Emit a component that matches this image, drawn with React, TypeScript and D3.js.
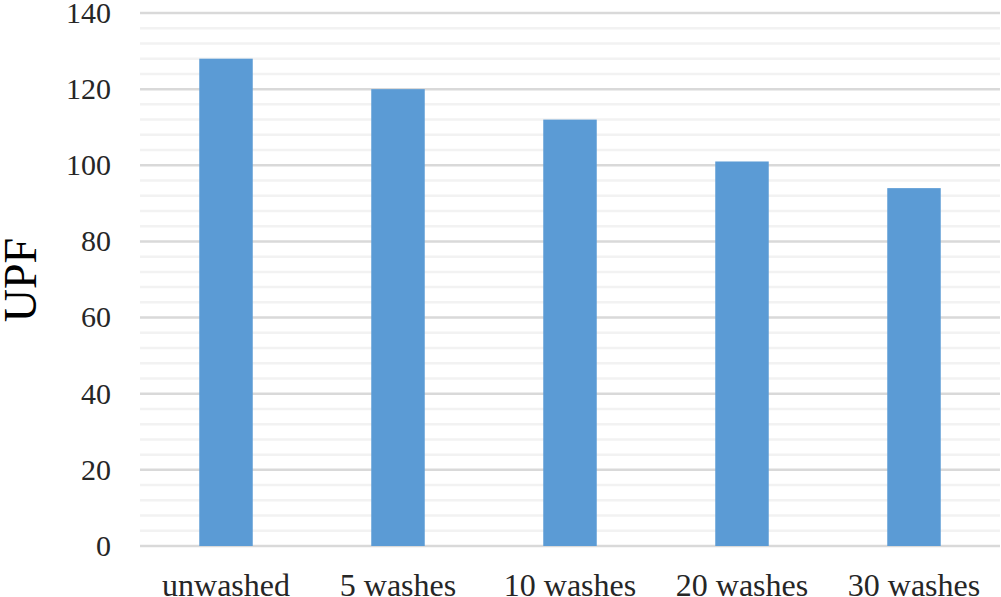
import React, { useEffect, useRef } from "react";
import * as d3 from "d3";

const categories = ["unwashed", "5 washes", "10 washes", "20 washes", "30 washes"];
const upfValues = [128, 120, 112, 101, 94];
const majorTicks = [0, 20, 40, 60, 80, 100, 120, 140];
const yTitle = "UPF";

const serif = "Liberation Serif, Tinos, DejaVu Serif, serif";

export default function App() {
  const ref = useRef<SVGSVGElement>(null);

  useEffect(() => {
    const width = 1001;
    const height = 597;
    const margin = { top: 13, right: 1, bottom: 51, left: 140 };

    const svg = d3.select(ref.current)
      .attr("width", width)
      .attr("height", height);
    svg.selectAll("*").remove();

    const x = d3.scaleBand<string>()
      .domain(categories)
      .range([margin.left, width - margin.right])
      .padding(0);

    const y = d3.scaleLinear()
      .domain([0, 140])
      .range([height - margin.bottom, margin.top]);

    // minor gridlines every 4
    const minor = d3.range(0, 141, 4).filter(v => v % 20 !== 0);
    svg.append("g")
      .selectAll("line")
      .data(minor)
      .enter()
      .append("line")
      .attr("x1", margin.left)
      .attr("x2", width - margin.right)
      .attr("y1", d => y(d))
      .attr("y2", d => y(d))
      .style("stroke", "#f2f2f2")
      .style("stroke-width", 2.5);

    // major gridlines
    svg.append("g")
      .selectAll("line")
      .data(majorTicks)
      .enter()
      .append("line")
      .attr("x1", margin.left)
      .attr("x2", width - margin.right)
      .attr("y1", d => y(d))
      .attr("y2", d => y(d))
      .style("stroke", "#d9d9d9")
      .style("stroke-width", 2.5);

    // bars
    const barW = x.step() * 0.311;
    svg.append("g")
      .selectAll("rect")
      .data(upfValues)
      .enter()
      .append("rect")
      .attr("x", (d, i) => (x(categories[i]) as number) + x.bandwidth() / 2 - barW / 2)
      .attr("y", d => y(d))
      .attr("width", barW)
      .attr("height", d => y(0) - y(d))
      .style("fill", "#5b9bd5");

    // y tick labels
    svg.append("g")
      .selectAll("text")
      .data(majorTicks)
      .enter()
      .append("text")
      .attr("x", 111)
      .attr("y", d => y(d))
      .attr("dy", "0.33em")
      .attr("text-anchor", "end")
      .attr("font-family", serif)
      .attr("font-size", 30)
      .attr("fill", "#262626")
      .text(d => d);

    // x labels
    svg.append("g")
      .selectAll("text")
      .data(categories)
      .enter()
      .append("text")
      .attr("x", d => (x(d) as number) + x.bandwidth() / 2)
      .attr("y", 596)
      .attr("text-anchor", "middle")
      .attr("font-family", serif)
      .attr("font-size", 32)
      .attr("fill", "#262626")
      .text(d => d);

    // y title
    svg.append("text")
      .attr("transform", `translate(36, 280) rotate(-90)`)
      .attr("text-anchor", "middle")
      .attr("font-family", serif)
      .attr("font-size", 46)
      .attr("fill", "#000")
      .text(yTitle);
  }, []);

  return (
    <svg ref={ref} style={{ position: "absolute", left: 0, top: 0, display: "block" }}></svg>
  );
}
